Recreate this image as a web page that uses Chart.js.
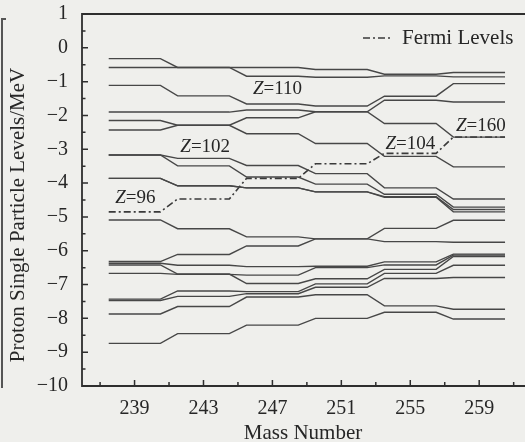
<!DOCTYPE html>
<html><head><meta charset="utf-8">
<script src="https://cdn.jsdelivr.net/npm/chart.js@4.4.0/dist/chart.umd.min.js"></script>
<style>
html,body{margin:0;padding:0;background:#efefec;overflow:hidden;}
#wrap{position:relative;width:525px;height:442px;}
#edge{position:absolute;left:1px;top:18px;width:3px;height:368px;border-left:2px solid #555;border-top:2px solid #555;}
canvas{position:absolute;left:0;top:0;}
</style></head><body>
<div id="wrap"><div id="edge"></div><canvas id="c" width="525" height="442"></canvas></div>
<script>
// nuclei (mass numbers) at which levels are given
const massNumbers = [239, 243, 247, 251, 255, 259];

// proton single-particle levels (MeV), one value per nucleus
const level01 = [-0.32, -0.58, -0.58, -0.64, -0.78, -0.73];
const level02 = [-0.58, -0.58, -0.84, -0.87, -0.83, -0.86];
const level03 = [-1.11, -1.42, -1.66, -1.72, -1.43, -1.06];
const level04 = [-1.90, -1.90, -1.84, -1.89, -1.55, -1.60];
const level05 = [-2.15, -2.29, -2.07, -1.89, -2.24, -2.64];
const level06 = [-2.43, -2.29, -2.54, -2.83, -3.21, -3.52];
const level07 = [-3.17, -3.27, -3.48, -3.72, -4.14, -4.47];
const level08 = [-3.17, -3.49, -3.82, -4.03, -4.33, -4.71];
const level09 = [-3.86, -4.08, -4.14, -4.26, -4.40, -4.78];
const level10 = [-3.86, -4.08, -4.14, -4.26, -4.42, -4.85];
const level11 = [-5.09, -5.35, -5.59, -5.65, -5.34, -5.10];
const level12 = [-6.32, -6.11, -5.86, -5.65, -5.73, -5.75];
const level13 = [-6.37, -6.43, -6.47, -6.46, -6.33, -6.10];
const level14 = [-6.42, -6.69, -6.97, -6.83, -6.55, -6.17];
const level15 = [-6.67, -6.70, -6.72, -6.50, -6.42, -6.13];
const level16 = [-7.43, -7.19, -7.21, -6.98, -6.67, -6.43];
const level17 = [-7.47, -7.35, -7.27, -7.08, -6.82, -6.79];
const level18 = [-7.87, -7.65, -7.37, -7.30, -7.63, -7.73];
const level19 = [-8.74, -8.45, -8.20, -8.00, -7.82, -8.02];

// Fermi levels (MeV)
const fermiLevels = [-4.85, -4.47, -3.86, -3.43, -3.12, -2.64];

// Fermi-level labels: text, mass number and energy where they are written
const zLabelText = ['96', '102', '110', '104', '160'];
const zLabelMass = [239.05, 243.1, 247.3, 255.0, 259.1];
const zLabelEnergy = [-4.45, -2.92, -1.23, -2.83, -2.30];

// ticks
const xTickValues = [237, 239, 241, 243, 245, 247, 249, 251, 253, 255, 257, 259, 261];
const xLabelValues = [239, 243, 247, 251, 255, 259];
const yTickValues = [1, 0, -1, -2, -3, -4, -5, -6, -7, -8, -9, -10];

const allLevels = [level01, level02, level03, level04, level05, level06, level07, level08, level09, level10,
  level11, level12, level13, level14, level15, level16, level17, level18, level19];

const HALF = 1.5; // half width of each nucleus' flat segment (mass units)
function toPoints(vals) {
  const pts = [];
  massNumbers.forEach((m, i) => { pts.push({x: m - HALF, y: vals[i]}); pts.push({x: m + HALF, y: vals[i]}); });
  return pts;
}

const SERIF = '"Liberation Serif", "DejaVu Serif", serif';
const INK = '#262626';
const LINE = '#474747';

const datasets = allLevels.map((v, i) => ({
  label: 'level ' + (i + 1), data: toPoints(v), showLine: true, borderColor: LINE, borderWidth: 1.4,
  pointRadius: 0, fill: false, tension: 0
}));
datasets.push({
  label: 'Fermi Levels', data: toPoints(fermiLevels), showLine: true, borderColor: '#3a3a3a', borderWidth: 1.6,
  borderDash: [7, 3, 2, 3], pointRadius: 0, fill: false, tension: 0
});

const framePlugin = {
  id: 'frame',
  afterDraw(chart) {
    const {ctx, chartArea: a, scales: {x, y}} = chart;
    ctx.save();
    ctx.strokeStyle = '#2e2e2e';
    ctx.lineWidth = 1.8;
    ctx.setLineDash([]);
    ctx.beginPath();
    ctx.moveTo(chart.width, a.top); ctx.lineTo(a.left, a.top); ctx.lineTo(a.left, a.bottom); ctx.lineTo(chart.width, a.bottom);
    ctx.stroke();
    ctx.lineWidth = 1.5;
    ctx.beginPath();
    xTickValues.forEach(v => {
      const px = x.getPixelForValue(v);
      const len = xLabelValues.includes(v) ? 6 : 4;
      ctx.moveTo(px, a.bottom); ctx.lineTo(px, a.bottom - len);
    });
    for (let v = -10; v <= 1; v += 0.5) {
      const py = y.getPixelForValue(v);
      const len = Number.isInteger(v) ? 6 : 3.5;
      ctx.moveTo(a.left, py); ctx.lineTo(a.left + len, py);
    }
    ctx.stroke();

    // y-axis title
    ctx.fillStyle = INK;
    ctx.save();
    ctx.translate(18, (a.top + a.bottom) / 2 + 15);
    ctx.rotate(-Math.PI / 2);
    ctx.font = '21px ' + SERIF;
    ctx.textAlign = 'center';
    ctx.textBaseline = 'middle';
    ctx.fillText('Proton Single Particle Levels/MeV', 0, 0);
    ctx.restore();

    // legend
    ctx.strokeStyle = '#3a3a3a';
    ctx.lineWidth = 1.5;
    ctx.setLineDash([7, 3, 2, 3]);
    ctx.beginPath();
    ctx.moveTo(a.left + 281, a.top + 24); ctx.lineTo(a.left + 311, a.top + 24);
    ctx.stroke();
    ctx.setLineDash([]);
    ctx.font = '21px ' + SERIF;
    ctx.textBaseline = 'middle';
    ctx.textAlign = 'left';
    ctx.fillText('Fermi Levels', a.left + 320, a.top + 24);

    // Z labels
    zLabelText.forEach((t, i) => {
      const cx = x.getPixelForValue(zLabelMass[i]);
      const cy = y.getPixelForValue(zLabelEnergy[i]);
      ctx.font = 'italic 19px ' + SERIF;
      const wz = ctx.measureText('Z').width;
      ctx.font = '19px ' + SERIF;
      const wr = ctx.measureText('=' + t).width;
      const x0 = cx - (wz + wr) / 2;
      ctx.font = 'italic 19px ' + SERIF;
      ctx.fillText('Z', x0, cy);
      ctx.font = '19px ' + SERIF;
      ctx.fillText('=' + t, x0 + wz, cy);
    });
    ctx.restore();
  }
};

new Chart(document.getElementById('c'), {
  type: 'scatter',
  data: {datasets},
  options: {
    responsive: false, animation: false, devicePixelRatio: 1,
    layout: {padding: {top: 14, right: 1, left: 0, bottom: 0}},
    plugins: {legend: {display: false}, tooltip: {enabled: false}},
    scales: {
      x: {
        type: 'linear', position: 'bottom', min: 235.95, max: 261.6,
        afterBuildTicks: s => { s.ticks = xTickValues.map(v => ({value: v})); },
        afterFit: s => { s.height = 56; s.paddingLeft = 0; s.paddingRight = 0; },
        ticks: {autoSkip: false, maxRotation: 0, padding: 11, color: INK,
          font: {family: SERIF, size: 20},
          callback: v => xLabelValues.includes(v) ? String(v) : ''},
        grid: {display: false, drawTicks: false},
        border: {display: false},
        title: {display: true, text: 'Mass Number', color: INK,
          font: {family: SERIF, size: 21, lineHeight: 0.8}, padding: {top: 0, bottom: 0}}
      },
      y: {
        type: 'linear', min: -10, max: 1,
        afterBuildTicks: s => { s.ticks = yTickValues.map(v => ({value: v})); },
        afterFit: s => { s.width = 82; s.paddingTop = 0; s.paddingBottom = 0; },
        ticks: {autoSkip: false, padding: 14, color: INK, font: {family: SERIF, size: 20},
          callback: v => v < 0 ? '\u2212' + Math.abs(v) : String(v)},
        grid: {display: false, drawTicks: false},
        border: {display: false},
        title: {display: false}
      }
    }
  },
  plugins: [framePlugin]
});
</script>
</body></html>
